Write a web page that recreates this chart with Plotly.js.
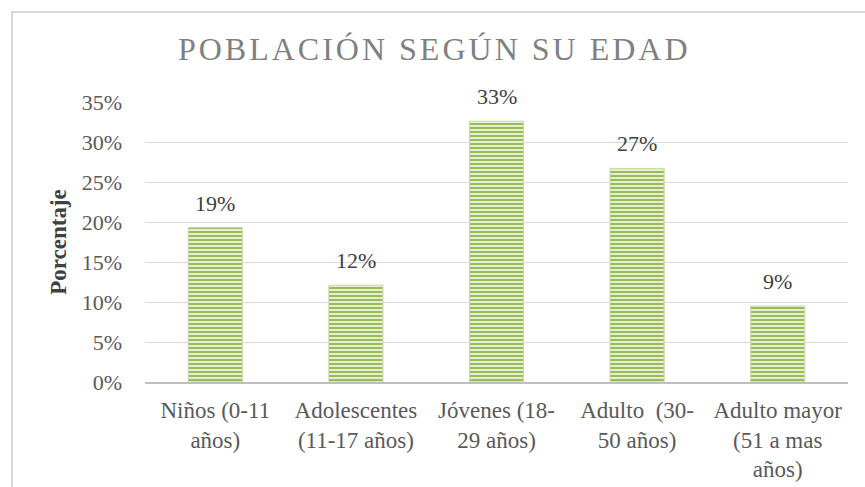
<!DOCTYPE html>
<html>
<head>
<meta charset="utf-8">
<script src="https://cdn.plot.ly/plotly-3.0.1.min.js"></script>
<style>
  html, body { margin: 0; padding: 0; background: #fff; }
  #wrap { position: relative; width: 865px; height: 487px; overflow: hidden; }
  #frame { position: absolute; left: 11px; top: 11px; width: 900px; height: 520px; border: 2px solid #d9d9d9; box-sizing: border-box; pointer-events: none; z-index: 2; }
  #chart { position: absolute; left: 0; top: 0; width: 865px; height: 487px; }
  .gtitle { letter-spacing: 3px; }
</style>
</head>
<body>
<div id="wrap">
  <div id="chart"></div>
  <div id="frame"></div>
</div>
<script>
const categories = [
  "Niños (0-11<br>años)",
  "Adolescentes<br>(11-17 años)",
  "Jóvenes (18-<br>29 años)",
  "Adulto  (30-<br>50 años)",
  "Adulto mayor<br>(51 a mas<br>años)"
];
const values = [0.193, 0.121, 0.326, 0.267, 0.095];
const labels = ["19%", "12%", "33%", "27%", "9%"];
const yTickVals = [0, 0.05, 0.10, 0.15, 0.20, 0.25, 0.30, 0.35];

const serif = "Liberation Serif";

const trace = {
  type: "bar",
  x: categories,
  y: values,
  marker: {
    color: "#dbe8c4",
    line: { color: "#c9d9a6", width: 1 },
    pattern: { shape: "-", fgcolor: "#9bbb59", bgcolor: "#e4eed3", size: 4, solidity: 0.5, fillmode: "replace" }
  },
  hoverinfo: "none"
};

const annotations = categories.map((c, i) => ({
  x: c, y: values[i], xref: "x", yref: "y",
  text: labels[i], showarrow: false,
  yanchor: "bottom", yshift: 10,
  font: { family: serif, size: 22, color: "#404040" }
}));

const layout = {
  width: 865, height: 487,
  margin: { l: 145, r: 17, t: 102, b: 105 },
  paper_bgcolor: "#ffffff",
  plot_bgcolor: "#ffffff",
  showlegend: false,
  bargap: 0.615,
  title: {
    text: "POBLACIÓN SEGÚN SU EDAD",
    x: 0.502, xref: "container", xanchor: "center",
    y: 1 - 49 / 487, yref: "container", yanchor: "middle",
    font: { family: serif, size: 32, color: "#808080" }
  },
  xaxis: {
    type: "category",
    showgrid: false,
    showline: true, linecolor: "#bfbfbf", linewidth: 2,
    ticks: "", tickfont: { family: serif, size: 23, color: "#595959" },
    ticklabelstandoff: 6,
    automargin: false
  },
  yaxis: {
    range: [0, 0.35],
    tickvals: yTickVals,
    tickformat: ".0%",
    showgrid: true, gridcolor: "#d9d9d9", gridwidth: 1,
    zeroline: false, showline: false,
    ticks: "", tickfont: { family: serif, size: 22, color: "#595959" },
    ticklabelstandoff: 22,
    automargin: false,
    title: { text: "<b>Porcentaje</b>", font: { family: serif, size: 23, color: "#404040" }, standoff: 8 }
  },
  annotations: annotations
};

Plotly.newPlot("chart", [trace], layout, { staticPlot: true, displayModeBar: false });
</script>
</body>
</html>
